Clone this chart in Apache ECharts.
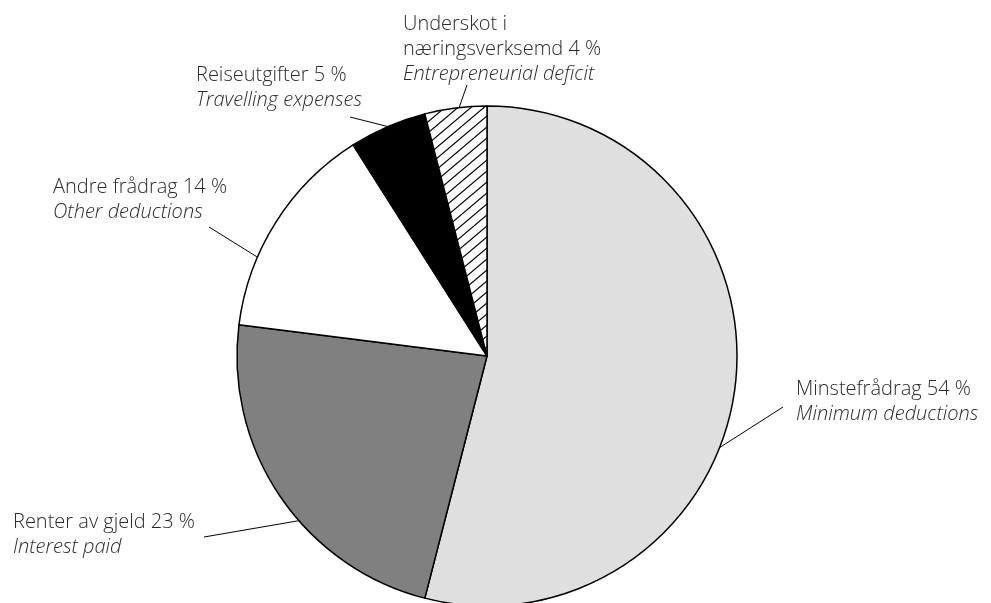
<!DOCTYPE html>
<html><head><meta charset="utf-8">
<script src="https://cdn.jsdelivr.net/npm/echarts@6/dist/echarts.min.js"></script>
<style>html,body{margin:0;padding:0;background:#fff}#c{width:991px;height:603px}</style>
</head><body><div id="c"></div>
<script>
// ---- data ----
const categories = ['Minstefrådrag', 'Renter av gjeld', 'Andre frådrag', 'Reiseutgifter', 'Underskot i\nnæringsverksemd'];
const englishNames = ['Minimum deductions', 'Interest paid', 'Other deductions', 'Travelling expenses', 'Entrepreneurial deficit'];
const values = [54, 23, 14, 5, 4];

// ---- layout / style ----
const CX = 487, CY = 356, R = 250;
const labelPos = [[796, 377], [13, 510], [53, 175], [196, 63], [403, 12]];
const lineAnchorAngle = [111.5, 228.8, 293.3, 336.6, 353.6];
const lineLabelEnd = [[783, 407], [204, 537], [209, 227], [350, 117], [467, 85]];

function hatchCanvas() {
  const W = 13, H = 11;
  const c = document.createElement('canvas');
  c.width = W; c.height = H;
  const g = c.getContext('2d');
  g.fillStyle = '#fff'; g.fillRect(0, 0, W, H);
  g.strokeStyle = '#000'; g.lineWidth = 1.2;
  g.beginPath();
  [[0, 0], [W, 0], [-W, 0], [0, H], [0, -H]].forEach(([ox, oy]) => {
    g.moveTo(ox, H + oy); g.lineTo(W + ox, oy);
  });
  g.stroke();
  return c;
}
const sliceColors = ['#dfdfdf', '#808080', '#ffffff', '#000000', { image: hatchCanvas(), repeat: 'repeat' }];

const txt = { fontFamily: 'Open Sans', fontWeight: 300, fontSize: 20, color: '#2a2a2a', lineHeight: 25 };

const chart = echarts.init(document.getElementById('c'), null, { renderer: 'canvas' });
chart.setOption({
  animation: false,
  backgroundColor: '#fff',
  series: [{
    type: 'pie',
    center: [CX, CY],
    radius: R,
    startAngle: 90,
    clockwise: true,
    avoidLabelOverlap: false,
    emphasis: { disabled: true },
    itemStyle: { borderColor: '#000', borderWidth: 1.5 },
    label: {
      show: true,
      position: 'outside',
      formatter: p => `{a|${categories[p.dataIndex]} ${p.value} %}\n{b|${englishNames[p.dataIndex]}}`,
      rich: {
        a: Object.assign({}, txt),
        b: Object.assign({ fontStyle: 'italic' }, txt)
      }
    },
    labelLine: { show: true, length: 10, length2: 10, lineStyle: { color: '#000', width: 1 } },
    labelLayout: function (p) {
      const i = p.dataIndex;
      const a = lineAnchorAngle[i] * Math.PI / 180;
      return {
        x: labelPos[i][0], y: labelPos[i][1], align: 'left', verticalAlign: 'top',
        labelLinePoints: [[CX + R * Math.sin(a), CY - R * Math.cos(a)], lineLabelEnd[i]]
      };
    },
    data: categories.map((n, i) => ({ name: n, value: values[i], itemStyle: { color: sliceColors[i] } }))
  }]
});
</script>
</body></html>
